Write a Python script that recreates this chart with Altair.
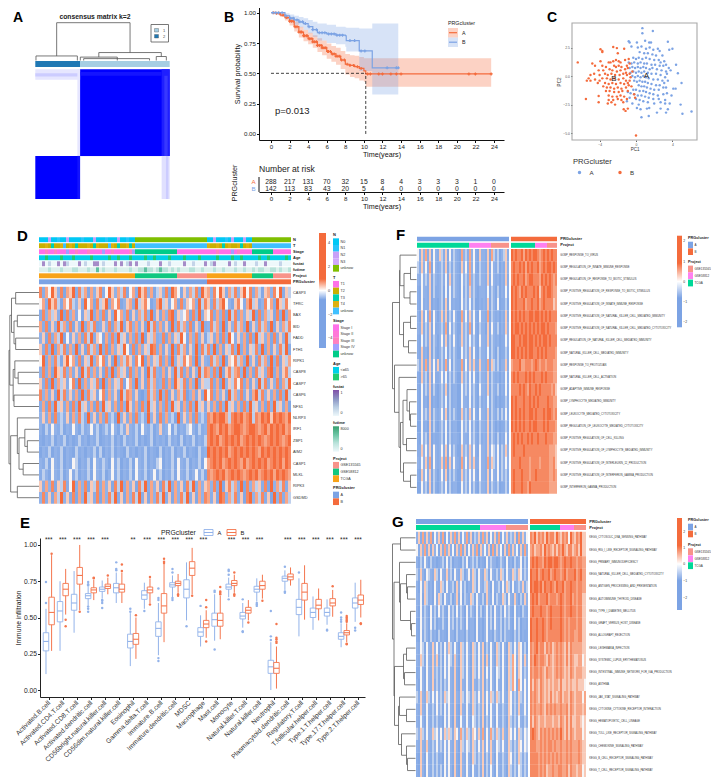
import json
import altair as alt
import pandas as pd

W, H = 703, 771
FONT = "Liberation Sans"
BLUE, ORANGE = "#7CA3E4", "#F46B3C"

# ---------- Panel B values ----------
A_T = [0,.5,1,1.5,2,2.5,3,3.5,4,4.5,5,5.5,6,6.5,7,7.5,8,8.5,9,9.5,10,10.2,23.7]
A_S = [1,.995,.98,.96,.93,.885,.84,.81,.785,.76,.73,.71,.68,.66,.64,.61,.575,.565,.555,.54,.52,.495,.495]
A_HI = [1,1,.995,.98,.96,.925,.885,.86,.835,.815,.79,.77,.745,.725,.71,.685,.66,.65,.645,.635,.625,.625,.63]
A_LO = [1,.985,.965,.935,.895,.845,.795,.765,.74,.71,.675,.65,.62,.595,.57,.535,.49,.47,.46,.44,.43,.39,.385]
B_T = [0,1,1.5,2,2.5,3,3.5,4,4.5,5,6,7,8,8.1,9.5,10.9,13.7]
B_S = [1,1,.975,.955,.94,.925,.91,.885,.86,.835,.825,.815,.81,.77,.685,.545,.545]
B_HI = [1,1,.995,.985,.975,.965,.955,.94,.925,.91,.9,.885,.88,.875,.87,.91,.91]
B_LO = [1,1,.95,.92,.9,.88,.86,.83,.8,.77,.75,.74,.72,.68,.52,.325,.325]
A_CENS = [.3,.6,.9,1.3,1.7,2.0,2.2,2.4,2.6,2.8,3,3.2,3.3,3.5,3.6,3.8,3.9,4.1,4.2,4.4,4.5,4.7,4.9,5,5.2,5.4,5.5,5.7,5.9,6.1,6.2,6.4,6.6,6.8,7,7.2,7.4,7.6,7.9,8.2,8.5,8.9,9.3,9.7,10.4,10.7,11.6,12,12.9,13.5,14,21.3,22,23.7]
B_CENS = [.2,.5,.8,1.2,1.6,2.1,2.4,2.8,3.1,3.4,3.7,4.1,4.5,4.9,5.2,5.5,5.8,6.2,6.5,6.8,7.1,7.4,7.7,8.5,9,9.7,10.1,12.5,13.5,13.7]
RISK_T = list(range(0, 25, 2))
RISK_A = [288,217,131,70,32,15,8,4,3,3,3,1,0]
RISK_B = [142,113,83,43,20,5,4,0,0,0,0,0,0]

# ---------- Panel C values ----------
PCA_B = [(.7,4.2),(.7,3.75),(1.85,3.95),(-.8,3.05),(-.7,2.95),(.1,2.95),(1,3.1),(1.45,2.95),(1.65,2.95),(3.5,3),(4,2.4),(3.65,2.3),(4.4,1),(4.6,.25),(5,-.6),(4.1,-1.1),(4.35,-1.1),(4.9,-2.5),(6.1,-3.1),(5.1,-3.3),(.6,-3.6),(1.4,-3.5),(2.3,-3.2),(3.3,-3.2),(2.7,-2.85),(3.5,-2.9),(.1,-2.8),(.5,-2.9),(1.2,-2.85),(1.45,-2.8),
(-.5,2.6),(.2,2.5),(.6,2.6),(1.1,2.4),(1.5,2.5),(1.9,2.3),(2.4,2.4),(2.6,2.2),(.4,2.1),(.9,2),(1.3,2),(1.8,1.9),(2.2,1.8),(2.9,1.8),(-.3,1.6),(0,1.5),(.3,1.6),(.7,1.5),(1.1,1.6),(1.5,1.5),(2,1.4),(2.5,1.4),(3.1,1.3),(3.6,.7),(-.8,1.2),(-.5,1.1),(-.2,1.2),(.2,1.1),(.5,1.2),(.9,1.1),(1.2,1.1),(1.7,1),(2.1,1),(2.6,.9),(3,.9),
(-.7,.7),(-.4,.8),(-.1,.7),(.2,.8),(.5,.7),(.8,.8),(1.1,.7),(1.5,.6),(1.8,.7),(2.3,.6),(2.8,.5),(3.3,.4),(3.8,.5),(-.6,.3),(-.3,.4),(0,.3),(.3,.4),(.6,.3),(.9,.4),(1.3,.3),(1.7,.2),(2.2,.2),(2.7,.1),(3.2,-.1),(-.4,0),(-.1,-.1),(.2,0),(.5,-.1),(.8,0),(1.1,-.1),(1.4,-.2),(1.9,-.3),(2.4,-.3),(2.9,-.4),(3.5,-.4),
(-.2,-.4),(.1,-.5),(.4,-.4),(.7,-.5),(1,-.5),(1.3,-.6),(1.7,-.7),(2.2,-.8),(2.6,-.8),(3,-1),(3.3,-1),(.3,-.8),(.6,-.9),(.9,-.9),(1.2,-1),(1.6,-1.1),(2,-1.2),(2.5,-1.2),(-.3,-1.2),(0,-1.2),(.4,-1.3),(.8,-1.3),(1.1,-1.4),(1.5,-1.5),(1.9,-1.6),(2.4,-1.7),(3,-1.6),(3.4,-1.5),(-.9,-1.4),(-.6,-1.5),(-.2,-1.6),(.2,-1.7),(.6,-1.7),(1,-1.8),(1.4,-1.9),(1.9,-2),(2.5,-2),(3.2,-2.1),(3.9,-1.7),(-.7,-1.9),(0,-2),(.4,-2.1),(.8,-2.2),(1.3,-2.3),(2,-2.4),(2.7,-2.3),(3.2,-2.4),(3.7,-2.4),(-1,-2.2),(-.4,-2.4),(.3,-2.5),(3.1,-.6),(3.4,.2),(3.3,1),(2.7,1.2)]
PCA_O = [(-6.4,1.2),(-5.5,-2),(-4.1,-1.75),(-4.1,-2.3),(-3.9,2.35),(-3.7,2.2),(-3.7,2.1),(-2.5,2.55),(-2.1,2.45),(-2,2),(-1.3,2.4),(0,-5.2),(-1.35,-2.9),(-1.15,-3.05),(-.9,-2.85),
(-4.8,1.1),(-4.5,.9),(-3.9,1.3),(-3,1.2),(-2.8,1.2),(-2.5,1.3),(-2.2,1.4),(-1.9,1.3),(-1.7,1.2),(-1.2,1.4),(-.8,1.5),(-3.7,.9),(-3.3,.8),(-2.4,.9),(-2.2,.8),(-1.9,.9),(-1.6,.8),(-1,.9),(-4.1,.5),(-3.6,.5),(-2.9,.6),(-2.6,.5),(-2.1,.4),(-1.7,.5),(-1.2,.6),(-.9,.7),(-5,.1),(-4.6,.2),(-4,.1),(-3.4,.2),(-3.1,.1),(-2.7,.2),(-2.3,.1),(-1.8,.1),(-1.4,.2),(-1,.1),(-.7,.2),(-5.2,-.2),(-5,-.4),(-4.5,-.3),(-4,-.4),(-3.7,-.2),(-3.2,-.2),(-2.8,-.3),(-2.4,-.2),(-1.9,-.3),(-1.4,-.2),(-1.1,-.4),(-.6,-.1),(-5.4,-.4),(-4.2,-.6),(-3.4,-.6),(-3,-.7),(-2.6,-.6),(-2.2,-.7),(-1.7,-.6),(-1.3,-.7),(-.9,-.6),
(-3.6,-.9),(-3.2,-1),(-2.8,-1),(-2.4,-1.1),(-2,-1),(-1.6,-1.1),(-1.1,-1),(-3.3,-1.3),(-2.9,-1.3),(-2.4,-1.4),(-1.9,-1.4),(-1.5,-1.3),(-.9,-1.3),(-3,-1.7),(-2.6,-1.8),(-2.1,-1.8),(-1.7,-1.7),(-1.3,-1.8),(-.2,-1.6),(-.1,-1.9),(-3,-2.1),(-2.5,-2.1),(-2,-2),(-1.6,-2.1),(-3.1,-2.4),(-2.7,-2.3),(-2.3,-2.5),(-1.4,-2.3),(-1,-2),(-.8,-.8),(-.5,-.9),(-.7,-.4),(-.4,.4),(-.7,1.1),(-1.1,.3)]

# ---------- Panel E values: (lo, q1, med, q3, hi, outliers) ----------
CATS = ["Activated.B.cell","Activated.CD4.T.cell","Activated.CD8.T.cell","Activated.dendritic.cell","CD56bright.natural.killer.cell","CD56dim.natural.killer.cell","Eosinophil","Gamma.delta.T.cell","Immature.B.cell","Immature.dendritic.cell","MDSC","Macrophage","Mast.cell","Monocyte","Natural.killer.T.cell","Natural.killer.cell","Neutrophil","Plasmacytoid.dendritic.cell","Regulatory.T.cell","T.follicular.helper.cell","Type.1.T.helper.cell","Type.17.T.helper.cell","Type.2.T.helper.cell"]
SIG = ["***","***","***","***","***","","**","***","***","***","***","***","","***","***","***","","***","***","***","***","***","***"]
BOX_A = [(.11,.27,.335,.395,.56,[.60,.745]),(.27,.47,.545,.61,.75,[]),(.395,.55,.60,.66,.82,[]),(.58,.63,.65,.665,.71,[.54,.56,.575,.72,.73,.745]),(.63,.68,.695,.71,.755,[.565,.60,.615,.62]),(.60,.67,.705,.735,.81,[.825,.835,.88]),(.165,.29,.335,.385,.53,[.54,.56]),(.56,.625,.655,.685,.74,[.545]),(.24,.37,.425,.47,.60,[.20,.22,.62,.635,.70]),(.64,.71,.725,.74,.79,[.62,.635,.81,.835]),(.48,.635,.695,.76,.88,[.44]),(.30,.37,.40,.43,.515,[.58]),(.34,.44,.485,.53,.66,[.28,.675,.685]),(.64,.695,.71,.73,.775,[.625,.795,.82,.83]),(.43,.49,.51,.535,.60,[.40,.405,.625]),(.61,.675,.695,.715,.77,[.58,.59,.60]),(0,.115,.16,.205,.33,[.345,.37,.545]),(.69,.75,.77,.785,.825,[.67,.68,.85]),(.37,.52,.57,.625,.77,[.81]),(.415,.50,.535,.565,.645,[]),(.45,.51,.535,.565,.625,[.41,.415]),(.295,.35,.37,.395,.46,[.47,.485,.50,.535]),(.47,.565,.60,.635,.74,[.41,.43])]
BOX_B = [(.27,.45,.535,.64,.93,[.94]),(.52,.65,.695,.735,.835,[.44,.485]),(.55,.73,.79,.845,1.0,[.54]),(.62,.67,.69,.705,.76,[.77,.775]),(.66,.70,.715,.73,.775,[.79]),(.60,.675,.695,.73,.81,[.82,.865]),(.215,.315,.35,.39,.50,[.515]),(.60,.67,.69,.71,.77,[.59,.78]),(.33,.53,.58,.665,.87,[.875,.885,.905]),(.67,.72,.735,.75,.80,[.65,.66]),(.66,.79,.84,.885,.98,[.65]),(.36,.43,.455,.48,.55,[.335,.57,.62]),(.35,.44,.48,.53,.65,[.66,.67,.68,.71]),(.67,.72,.735,.755,.795,[.65,.66,.81]),(.48,.53,.55,.57,.62,[.465]),(.63,.695,.72,.75,.795,[.615]),(.01,.115,.15,.19,.30,[.325,.335,.35,.36,.455]),(.72,.76,.78,.80,.845,[]),(.485,.62,.675,.735,.86,[]),(.48,.56,.585,.625,.70,[]),(.505,.58,.60,.63,.69,[.715]),(.33,.38,.395,.41,.46,[.315,.32,.47,.48,.49,.50,.51]),(.50,.59,.62,.655,.76,[.455,.46])]

# ---------- Heatmap levels: 0 = blue, 5 = white, 9 = orange ----------
D_GENES = ["CASP3","TFRC","BAX","BID","FADD","FTH1","RIPK1","CASP8","CASP7","CASP6","NFS1","NLRP3","IRF1","ZBP1","AIM2","CASP1","MLKL","RIPK3","GSDMD"]
D_ROWS = [
"8275963817 6928471736 8259637481 5729683714 6382975163 748296|7385962748 3695827416 73859264",
"5729684175 8436295718 4692758136 7294685137 9462571836 572948|6284795316 8527946138 57296485",
"2837462918 3725164927 3816295738 1627483926 1738926457 183926|5827381948 2736491827 46182937",
"7281639472 8163927481 2638174926 8372619483 7261938472 816392|3847291638 4729163847 29163748",
"3618274915 2637184926 5172839461 7283916472 3817264951 738261|4627183952 6371829463 71826394",
"6283917482 7392618473 9281736495 2817364982 7163928471 639284|8392716483 9271648392 71638492",
"5927384169 5728164937 5826193748 6285917364 8271936485 729163|2847391658 4729361847 29381647",
"3827196483 7261948372 6183927461 8372619483 2716394827 163948|7382916847 8392718463 89271684",
"6281937462 5819273648 1927364815 7293618472 3817296481 739264|4827193648 5827163948 26381749",
"8372619483 6271938461 5827361948 7261038472 9381627480 371629|5827361947 3826179483 62718394",
"2718394627 1839462718 3946271839 6271839461 7283946172 839461|6271839462 7183946271 83946271",
"3627183426 1738429361 7283419362 7183429361 8273419263 718342|8798997489 8978948798 96989879",
"3142532413 2531423524 1342531426 3241532413 6235141324 531423|8987989789 9878998789 79898978",
"2132413241 3124231324 1232413142 3241312413 2314231413 241324|8989789898 9789898987 89898789",
"1324132413 2142313241 4132413214 2313241321 4132413241 321423|9898989789 8989898798 98989898",
"3241532413 2541324153 2431524132 4153241324 5132415324 132415|7898978989 8797898989 78989798",
"2431532413 5241324153 2413524132 4153241352 4132415324 135241|8789897898 9878989789 89798987",
"6273816482 5927381648 2736184927 3618492736 1849273618 492736|7382916847 2918374628 19374826",
"3826174936 2817394628 1738492617 3849261738 4926173849 261738|7261983748 2618937482 61938274",
]
F_TERMS = ["GOBP_RESPONSE_TO_VIRUS","GOBP_REGULATION_OF_INNATE_IMMUNE_RESPONSE","GOBP_REGULATION_OF_RESPONSE_TO_BIOTIC_STIMULUS","GOBP_POSITIVE_REGULATION_OF_RESPONSE_TO_BIOTIC_STIMULUS","GOBP_POSITIVE_REGULATION_OF_INNATE_IMMUNE_RESPONSE","GOBP_POSITIVE_REGULATION_OF_NATURAL_KILLER_CELL_MEDIATED_IMMUNITY","GOBP_POSITIVE_REGULATION_OF_NATURAL_KILLER_CELL_MEDIATED_CYTOTOXICITY","GOBP_REGULATION_OF_NATURAL_KILLER_CELL_MEDIATED_IMMUNITY","GOBP_NATURAL_KILLER_CELL_MEDIATED_IMMUNITY","GOBP_RESPONSE_TO_PROTOZOAN","GOBP_NATURAL_KILLER_CELL_ACTIVATION","GOBP_ADAPTIVE_IMMUNE_RESPONSE","GOBP_LYMPHOCYTE_MEDIATED_IMMUNITY","GOBP_LEUKOCYTE_MEDIATED_CYTOTOXICITY","GOBP_REGULATION_OF_LEUKOCYTE_MEDIATED_CYTOTOXICITY","GOBP_POSITIVE_REGULATION_OF_CELL_KILLING","GOBP_POSITIVE_REGULATION_OF_LYMPHOCYTE_MEDIATED_IMMUNITY","GOBP_POSITIVE_REGULATION_OF_INTERLEUKIN_12_PRODUCTION","GOBP_POSITIVE_REGULATION_OF_INTERFERON_GAMMA_PRODUCTION","GOBP_INTERFERON_GAMMA_PRODUCTION"]
F_ROWS = [
"5263726153 2642615243 2173427352 1633261742 413462|9898897989 8998789898 988",
"4263527153 2342614243 2163527352 1433261532 413263|8988989798 9889789899 898",
"3253426143 2342516243 2153427342 2433261532 313262|8989889789 9888798989 878",
"2153326142 2341515243 2152426342 1333251431 413252|9898798988 8989689899 877",
"2152326132 1341615232 2153425241 1323261431 512241|9898889788 9889789888 867",
"3162527153 1362614253 1173526352 1533271432 313262|9898989889 9899898989 888",
"3262426152 2342715243 1163427252 1433161532 413263|9899898989 8989899898 887",
"2152426143 1352614253 1263425342 1533261432 312253|9988989989 9898989989 888",
"2162316142 1342514243 1153426252 1433251431 412242|9989898989 9889898988 887",
"4262726252 6242725143 2272526362 2633271642 413362|7888977888 7898788788 877",
"2163416152 2352514243 1163425252 1433261432 313252|8989888989 8988898988 877",
"2152426142 1342614233 1153425342 1533261432 413252|8888989879 8898988888 786",
"2152316132 1342514233 1153325242 1423251431 312242|9898889889 8989888898 877",
"2153426143 2352614243 1163426252 1533261432 414252|9898989889 9898889899 878",
"1152316142 1342514233 1153425242 1433261431 312242|9898989889 8998889898 887",
"2153416132 2341514233 2153325342 1423261431 413252|8989898898 9889888988 877",
"2263526153 2352615243 1163426352 1533262542 514363|8988889888 8888888887 776",
"3253627153 2362716253 2173526362 2533272642 514353|8888988887 8888788887 786",
"2163526143 1352614243 1163425352 1533261532 514342|8988898887 8898888887 787",
"1153416142 1342514233 1153425242 1433261432 412242|8988898879 8888888887 777",
]
G_TERMS = ["KEGG_CYTOSOLIC_DNA_SENSING_PATHWAY","KEGG_RIG_I_LIKE_RECEPTOR_SIGNALING_PATHWAY","KEGG_PRIMARY_IMMUNODEFICIENCY","KEGG_NATURAL_KILLER_CELL_MEDIATED_CYTOTOXICITY","KEGG_ANTIGEN_PROCESSING_AND_PRESENTATION","KEGG_AUTOIMMUNE_THYROID_DISEASE","KEGG_TYPE_I_DIABETES_MELLITUS","KEGG_GRAFT_VERSUS_HOST_DISEASE","KEGG_ALLOGRAFT_REJECTION","KEGG_LEISHMANIA_INFECTION","KEGG_SYSTEMIC_LUPUS_ERYTHEMATOSUS","KEGG_INTESTINAL_IMMUNE_NETWORK_FOR_IGA_PRODUCTION","KEGG_ASTHMA","KEGG_JAK_STAT_SIGNALING_PATHWAY","KEGG_CYTOKINE_CYTOKINE_RECEPTOR_INTERACTION","KEGG_HEMATOPOIETIC_CELL_LINEAGE","KEGG_TOLL_LIKE_RECEPTOR_SIGNALING_PATHWAY","KEGG_CHEMOKINE_SIGNALING_PATHWAY","KEGG_B_CELL_RECEPTOR_SIGNALING_PATHWAY","KEGG_T_CELL_RECEPTOR_SIGNALING_PATHWAY"]
G_ROWS = [
"3627263715 3627152637 2615372614 3627361526 2715362436 172635|8796878697 8869768785 97687966",
"5263726163 5162736251 6372615263 7163526172 6351627263 516273|7867786978 7686879768 86786966",
"3142531423 1234152413 3214251342 4132152433 1243152314 235142|8989887989 9899878988 98878877",
"4263154326 4153263415 3264135264 1532641532 4264153264 365243|9889789889 7898878978 88978977",
"3152642315 3264152341 6352413264 1532463152 3415264152 343624|9899897988 9879889788 98878877",
"3251642315 2641532413 6251432641 5324163251 4326415326 314263|8989788897 8887898788 97878866",
"3152431524 1534215341 5243152431 5241352415 3241534215 231432|8988898878 9888898788 98878866",
"2153431524 1324215341 4243152331 5231352415 3241434215 241332|9889889878 9888898787 88878866",
"2152431423 1423215331 4233142331 5231352314 3241433214 241322|9889889878 8888898787 88778866",
"3254153263 5241536425 3164253164 2536142531 6425316425 365241|8789788687 8678787686 87777766",
"3264153263 6241535426 3164253164 2536162531 6425316475 265263|8798788768 7678787686 87667756",
"2253153263 4241535326 2164253164 2536152531 5425316475 165243|8788787687 7678787676 87677766",
"3153153262 4241435326 2163253163 2436142531 5325316475 175253|8687687676 7677686676 76676665",
"4263264253 5342645326 3264254264 3536253642 6435326534 264353|8787687676 8676786776 87677757",
"3263253242 5341535326 2163253164 2436152532 5324326524 263353|8787787687 8787787786 87677767",
"3253153242 4231535316 2153253154 2426142531 5324316424 253243|8687677677 7677687686 86677656",
"4364253364 5352646426 5274364265 3637253743 6436326535 264354|8987687878 7878797686 87677756",
"3263263243 5342535326 3164354264 2536253632 5435326424 365354|8887787878 8787787787 87778766",
"2163153242 4231535326 2163253164 2436142631 5324326524 264243|8888787878 7878787787 87778766",
"2163153242 4241535316 2163253153 2426142531 5324316424 254243|8888787867 7877887786 87767756",
]

# ---------- Annotation rows of panel D (one letter per column) ----------
D_ANN = {
"N": "cccpcclccpcccclcccpccclcccpcclcc" + "g"*24 + "ccpccclcpcccpcc" + "g"*13,
"T": "yyoytyyobyoytyyyoytoyyyboytyyoty" + "b"*24 + "oyyoytyoyyotyoy" + "b"*13,
"Stage": "mmrmmrmmmvmmrmmmrmmmmvmmrmmmmmrv" + "e"*14 + "m"*10 + "mmmrmmmmvmrmmmm" + "e"*7 + "m"*6,
"Age": "aahaaaahaaahaaaaahaaaaahaahaaaha" + "aaahaahaaaahaa" + "aahaaaahaa" + "aaahaaaahaahaaa" + "aahaaha" + "aaaaha",
"fustat": "fufsffufusfffufsffuufsfffufufsuf" + "ufffsfffuffsff" + "ffuffsfffu" + "fsuffffufsffuff" + "fsffuff" + "ffsfff",
"futime": "kkknkkknkkknnkkknkkdknkkknkkkknk" + "knndnnkndnnknk" + "nkkknnkknk" + "kknkknkkknkknkk" + "nknnkkn" + "nknkkn",
"Project": "O"*32 + "G"*14 + "S"*10 + "O"*15 + "G"*7 + "S"*6,
"PRGcluster": "A"*56 + "B"*28,
}
ANN_KEYS = list("clpgyobtmrveahfusknd") + ["O","G","S","A","B"]
ANN_COLS = ["#00C8F5","#28C4FA","#C8A0F8","#7FBF00","#C8B000","#DDB010","#40C0FF","#00D0B0","#FF70E8","#FF80C0","#A0A0FF","#00CC88","#00D0E8","#20CC70","#EEF8FB","#A68CC8","#C4D4E8","#DCF0EC","#B8E2DA","#60C0A0","#F8A318","#10C880","#F8938A",BLUE,ORANGE]

# ---------- Panel A blocks: x0, x1, y0, y1, consensus ----------
A_BLOCKS = [(.333,1,0,.668,1),(0,.333,.668,1,1),(0,.333,0,.08,.1),(0,.333,.03,.055,.2),(.94,1,.668,1,.12),(.972,.99,.668,1,.2),(.94,1,0,.668,.88),(.96,.985,.05,.668,.78),(.333,.94,.02,.05,.92),(.313,.333,0,.668,.1),(.333,.94,.668,.675,.07),(.313,.333,.668,1,.93)]
# trees: (height, child, child); a bare number is a leaf position
A_TREE = (1, (.12, .005, .313), (.21, (.09, .335, .61), (.105, .9, .975)))
A_TREE2 = (.05, .36, .85)
D_TREE = (36, (35, (33, (28, 0, 1), (30, (26, 2, 3), (28, 4, 5))), (31, (29, 6, (25, 7, 8)), (30, 9, 10))),
              (34, (26, 11, (24, (17, 12, (14, 13, 14)), (19, 15, 16))), (26, 17, 18)))
F_TREE = (24, (17, (16.5, 0, (12.5, (6, 1, 2), (6.5, 3, 4))), (13, (6, 5, 6), (8, 7, 8))),
              (22, 9, (17.5, 10, (16, (13.5, (9.5, 11, (7, 12, (6, 13, 14))), (10, 15, 16)), (13, 17, (6, 18, 19))))))
G_TREE = (23, (15, 0, 1), (21.5, (16, 2, (15, (9, 3, (8, 4, 5)), (5, 6, (4, 7, 8)))),
              (21, (12, (9, 9, 10), (11, 11, 12)), (17, (16, 13, (9, 14, 15)), (14, 16, (9, 17, (8, 18, 19)))))))

LAYERS = []
def px(v): return v - 8
def rx(a, b): return alt.Scale(domain=[a[0], a[1]], range=[px(b[0]), px(b[1])], nice=False, zero=False)

def txt(s, x, y, size=5, bold=False, color="#222222", align="left", baseline="middle", angle=0):
    LAYERS.append(alt.Chart(pd.DataFrame({"t": [s]})).mark_text(
        font=FONT, fontSize=size, fontWeight="bold" if bold else "normal", color=color,
        align=align, baseline=baseline, angle=angle).encode(
        x=alt.value(px(x)), y=alt.value(px(y)), text="t:N"))

def box(x0, x1, y0, y1, fill=None, stroke=None, sw=1, opacity=None):
    kw = {}
    if fill is not None: kw["fill"] = fill
    else: kw["fillOpacity"] = 0
    if stroke is not None: kw.update(stroke=stroke, strokeWidth=sw)
    if opacity is not None: kw["opacity"] = opacity
    LAYERS.append(alt.Chart(pd.DataFrame({"a": [0]})).mark_rect(**kw).encode(
        x=alt.value(px(x0)), x2=alt.value(px(x1)), y=alt.value(px(y0)), y2=alt.value(px(y1))))

def seg(x0, x1, y0, y1, color="#222222", sw=1, dash=None):
    kw = dict(color=color, strokeWidth=sw)
    if dash: kw["strokeDash"] = dash
    LAYERS.append(alt.Chart(pd.DataFrame({"a": [0]})).mark_rule(**kw).encode(
        x=alt.value(px(x0)), x2=alt.value(px(x1)), y=alt.value(px(y0)), y2=alt.value(px(y1))))

def grad(stops):
    return {"gradient": "linear", "x1": 0, "y1": 0, "x2": 0, "y2": 1,
            "stops": [{"offset": o, "color": c} for o, c in stops]}

def tree_segs(node, out, leaf_offset=.5):
    if not isinstance(node, tuple):
        return node + leaf_offset, 0
    h, a, b = node
    pa, ha = tree_segs(a, out, leaf_offset)
    pb, hb = tree_segs(b, out, leaf_offset)
    out += [(ha, h, pa, pa), (hb, h, pb, pb), (h, h, pa, pb)]
    return (pa + pb) / 2, h

def dendro_rows(tree, hmax, xright, xleft, nrows, ytop, ybot):
    out = []
    tree_segs(tree, out)
    df = pd.DataFrame(out, columns=["h1", "h2", "p1", "p2"])
    LAYERS.append(alt.Chart(df).mark_rule(color="#5A5A5A", strokeWidth=.8).encode(
        x=alt.X("h1:Q", axis=None, scale=rx((0, hmax), (xright, xleft))), x2="h2:Q",
        y=alt.Y("p1:Q", axis=None, scale=rx((0, nrows), (ytop, ybot))), y2="p2:Q"))

HEAT = alt.Scale(domain=[0, 3.2, 5, 6.5, 9], range=[BLUE, "#93B3E8", "#F7F4F4", "#F8B59A", ORANGE], interpolate="rgb")
def clean(s):
    return s.replace(" ", "").split("|")
def heat(rows, na, nb, gap, x0, x1, y0, y1):
    recs = []
    for r, s in enumerate(rows):
        a, b = clean(s)
        a = (a + a[-1] * na)[:na]; b = (b + b[-1] * nb)[:nb]
        for c, ch in enumerate(a):
            recs.append((c, c + 1, r, r + 1.03, int(ch)))
        for c, ch in enumerate(b):
            c2 = na + gap + c
            recs.append((c2, c2 + 1, r, r + 1.03, int(ch)))
    df = pd.DataFrame(recs, columns=["c", "c2", "r", "r2", "v"])
    n = na + gap + nb
    LAYERS.append(alt.Chart(df).mark_rect().encode(
        x=alt.X("c:Q", axis=None, scale=rx((0, n), (x0, x1))), x2="c2:Q",
        y=alt.Y("r:Q", axis=None, scale=rx((0, len(rows)), (y0, y1))), y2="r2:Q",
        color=alt.Color("v:Q", scale=HEAT, legend=None)))

def row_labels(labels, x, y0, y1, size, color="#333333"):
    df = pd.DataFrame({"r": [i + .5 for i in range(len(labels))], "l": labels})
    LAYERS.append(alt.Chart(df).mark_text(font=FONT, fontSize=size, align="left", baseline="middle", color=color).encode(
        x=alt.value(px(x)), y=alt.Y("r:Q", axis=None, scale=rx((0, len(labels)), (y0, y1))), text="l:N"))

# ================= Panel A =================
txt("A", 13, 21.5, 14, True, "#000000", baseline="alphabetic")
txt("consensus matrix k=2", 95, 16.5, 6.8, True, align="center")
df = pd.DataFrame(A_BLOCKS, columns=["x0", "x1", "y0", "y1", "v"])
LAYERS.append(alt.Chart(df).mark_rect().encode(
    x=alt.X("x0:Q", axis=None, scale=rx((0, 1), (35.3, 169.7))), x2="x1:Q",
    y=alt.Y("y0:Q", axis=None, scale=rx((0, 1), (69.3, 199))), y2="y1:Q",
    color=alt.Color("v:Q", scale=alt.Scale(domain=[0, 1], range=["#FFFFFF", "#0000FF"], interpolate="rgb"), legend=None)))
out = []
tree_segs(A_TREE, out, 0)
tree_segs(A_TREE2, out, 0)
df = pd.DataFrame(out, columns=["h1", "h2", "p1", "p2"])
LAYERS.append(alt.Chart(df).mark_rule(color="#555555", strokeWidth=.8).encode(
    y=alt.Y("h1:Q", axis=None, scale=rx((0, 1), (60.5, 22.7))), y2="h2:Q",
    x=alt.X("p1:Q", axis=None, scale=rx((0, 1), (35.3, 169.7))), x2="p2:Q"))
box(35.3, 80, 61, 67, fill="#1F78B4")
box(80, 169.7, 61, 67, fill="#A6CEE3")
box(151, 168.5, 24.5, 42, stroke="#555555", sw=.8)
box(154.5, 158.5, 28.5, 32, fill="#A6CEE3", stroke="#555555", sw=.4)
box(154.5, 158.5, 34.5, 38, fill="#1F78B4", stroke="#555555", sw=.4)
txt("1", 163, 30.5, 4, color="#444444")
txt("2", 163, 36.5, 4, color="#444444")

# ================= Panel B =================
txt("B", 224, 21.5, 14, True, "#000000", baseline="alphabetic")
TS = rx((-1.29, 25.08), (259, 504))
SS = rx((-.05, 1.047), (140, 7))
def frame(t, s, hi, lo):
    return pd.DataFrame({"t": t, "s": s, "hi": hi, "lo": lo})
def xn(): return alt.X("t:Q", axis=None, scale=TS)
for t, s, hi, lo, col in [(A_T, A_S, A_HI, A_LO, ORANGE), (B_T, B_S, B_HI, B_LO, BLUE)]:
    LAYERS.append(alt.Chart(frame(t, s, hi, lo)).mark_area(interpolate="step-after", opacity=.3, color=col).encode(
        x=xn(), y=alt.Y("lo:Q", axis=None, scale=SS), y2="hi:Q"))
for t, s, cens, col in [(A_T, A_S, A_CENS, ORANGE), (B_T, B_S, B_CENS, BLUE)]:
    LAYERS.append(alt.Chart(pd.DataFrame({"t": t, "s": s})).mark_line(interpolate="step-after", color=col, strokeWidth=1.2).encode(
        x=xn(), y=alt.Y("s:Q", axis=None, scale=SS)))
    cy = [[v for tt, v in zip(t, s) if tt <= c][-1] for c in cens]
    LAYERS.append(alt.Chart(pd.DataFrame({"t": cens, "s": cy})).mark_point(shape="cross", filled=True, size=9, color=col, opacity=1).encode(
        x=xn(), y=alt.Y("s:Q", axis=None, scale=SS)))
# median guide lines
LAYERS.append(alt.Chart(pd.DataFrame({"t": [0], "t2": [10.2], "s": [.5]})).mark_rule(color="#111111", strokeWidth=.8, strokeDash=[3, 2]).encode(
    x=xn(), x2="t2:Q", y=alt.Y("s:Q", axis=None, scale=SS)))
LAYERS.append(alt.Chart(pd.DataFrame({"t": [10.2], "s": [0], "s2": [.5]})).mark_rule(color="#111111", strokeWidth=.8, strokeDash=[3, 2]).encode(
    x=xn(), y=alt.Y("s:Q", axis=None, scale=SS), y2="s2:Q"))
# axes
LAYERS.append(alt.Chart(pd.DataFrame({"t": [0], "s": [0]})).mark_point(opacity=0).encode(
    x=alt.X("t:Q", scale=TS, axis=alt.Axis(orient="bottom", offset=px(140) - H, values=RISK_T, format="d", grid=False,
        domainColor="#111111", domainWidth=1, tickColor="#111111", tickSize=2.5, labelFontSize=6.2, labelColor="#222222", labelPadding=1, labelFont=FONT,
        title="Time(years)", titleFontSize=7.2, titleFontWeight="normal", titleFont=FONT, titlePadding=1, titleColor="#111111")),
    y=alt.Y("s:Q", scale=SS, axis=alt.Axis(orient="left", offset=-px(259), values=[0, .25, .5, .75, 1], format=".2f", grid=False,
        domainColor="#111111", domainWidth=1, tickColor="#111111", tickSize=2.5, labelFontSize=6.2, labelColor="#222222", labelPadding=1, labelFont=FONT,
        title="Survival probability", titleFontSize=7.2, titleFontWeight="normal", titleFont=FONT, titlePadding=2, titleColor="#111111"))))
txt("p=0.013", 275, 110.5, 9.5, color="#222222")
txt("PRGcluster", 448, 22.5, 5.3)
box(448, 458, 28, 37.5, fill=ORANGE, opacity=.3)
box(448, 458, 37.5, 47, fill=BLUE, opacity=.3)
seg(449, 457, 32.7, 32.7, ORANGE, 1.2)
seg(449, 457, 42.2, 42.2, BLUE, 1.2)
txt("A", 462, 32.7, 5.3)
txt("B", 462, 42.2, 5.3)
# risk table
RY = rx((0, 1), (192, 177))
txt("Number at risk", 259, 168.5, 8.6)
for rv, yv in [(RISK_A, .7), (RISK_B, .23)]:
    LAYERS.append(alt.Chart(pd.DataFrame({"t": RISK_T, "n": rv, "y": [yv] * len(rv)})).mark_text(font=FONT, fontSize=6.8, color="#222222").encode(
        x=xn(), y=alt.Y("y:Q", axis=None, scale=RY), text="n:Q"))
LAYERS.append(alt.Chart(pd.DataFrame({"t": [0], "y": [0]})).mark_point(opacity=0).encode(
    x=alt.X("t:Q", scale=TS, axis=alt.Axis(orient="bottom", offset=px(192) - H, values=RISK_T, format="d", grid=False,
        domainColor="#111111", domainWidth=1, tickColor="#111111", tickSize=2.5, labelFontSize=6.2, labelColor="#222222", labelPadding=1, labelFont=FONT,
        title="Time(years)", titleFontSize=7.2, titleFontWeight="normal", titleFont=FONT, titlePadding=1, titleColor="#111111")),
    y=alt.Y("y:Q", axis=None, scale=RY)))
seg(259, 259, 177, 192, "#111111", 1)
txt("A", 251.5, 181.5, 6.2, color=ORANGE)
txt("B", 251.5, 188.5, 6.2, color=BLUE)
txt("PRGcluster", 235, 183, 7.2, align="center", angle=270)

# ================= Panel C =================
txt("C", 547, 21.5, 14, True, "#000000", baseline="alphabetic")
PX = rx((-7.03, 6.7), (572, 697))
PY = rx((-5.6, 4.65), (140, 23))
for pts, col in [(PCA_B, BLUE), (PCA_O, ORANGE)]:
    df = pd.DataFrame(pts, columns=["x", "y"])
    LAYERS.append(alt.Chart(df).mark_circle(size=6, color=col, opacity=1).encode(
        x=alt.X("x:Q", axis=None, scale=PX), y=alt.Y("y:Q", axis=None, scale=PY)))
LAYERS.append(alt.Chart(pd.DataFrame({"x": [0], "y": [0]})).mark_point(opacity=0).encode(
    x=alt.X("x:Q", scale=PX, axis=alt.Axis(orient="bottom", offset=px(140) - H, values=[-4, 0, 4], format="d", grid=False,
        domain=False, tickColor="#666666", tickSize=1.5, labelFontSize=3.4, labelColor="#555555", labelPadding=1, labelFont=FONT,
        title="PC1", titleFontSize=4.5, titleFontWeight="normal", titleFont=FONT, titlePadding=1, titleColor="#333333")),
    y=alt.Y("y:Q", scale=PY, axis=alt.Axis(orient="left", offset=-px(572), values=[-5, -2.5, 0, 2.5], format=".1f", grid=False,
        domain=False, tickColor="#666666", tickSize=1.5, labelFontSize=3.4, labelColor="#555555", labelPadding=1, labelFont=FONT,
        title="PC2", titleFontSize=4.5, titleFontWeight="normal", titleFont=FONT, titlePadding=1, titleColor="#333333"))))
box(572, 697, 23, 140, stroke="#A8A8A8", sw=1.1)
txt("A", 646.5, 75.5, 8, align="center", color="#222222")
txt("B", 614, 79, 8, align="center", color="#222222")
txt("PRGcluster", 573, 162, 7.6, color="#333333")
for xx, col, lab in [(579.5, BLUE, "A"), (620, ORANGE, "B")]:
    LAYERS.append(alt.Chart(pd.DataFrame({"a": [0]})).mark_circle(size=12, color=col, opacity=1).encode(
        x=alt.value(px(xx)), y=alt.value(px(172.5))))
    txt(lab, xx + 10, 172.5, 6.2, color="#333333")

# ================= Panel D =================
txt("D", 17, 241, 15, True, "#000000", baseline="alphabetic")
recs = []
for r, (k, s) in enumerate(D_ANN.items()):
    for c, ch in enumerate(s[:84]):
        recs.append((c, c + 1, r + .09, r + .91, ch))
df = pd.DataFrame(recs, columns=["c", "c2", "r", "r2", "k"])
LAYERS.append(alt.Chart(df).mark_rect().encode(
    x=alt.X("c:Q", axis=None, scale=rx((0, 84), (39, 291))), x2="c2:Q",
    y=alt.Y("r:Q", axis=None, scale=rx((0, 8), (236.7, 284.8))), y2="r2:Q",
    color=alt.Color("k:N", scale=alt.Scale(domain=ANN_KEYS, range=ANN_COLS), legend=None)))
df = pd.DataFrame({"r": [i + .5 for i in range(8)], "l": list(D_ANN.keys())})
LAYERS.append(alt.Chart(df).mark_text(font=FONT, fontSize=4, fontWeight="bold", align="left", baseline="middle", color="#222222").encode(
    x=alt.value(px(293)), y=alt.Y("r:Q", axis=None, scale=rx((0, 8), (236.7, 284.8))), text="l:N"))
heat(D_ROWS, 56, 28, 0, 39, 291, 286.8, 503.4)
dendro_rows(D_TREE, 36, 39, 9, 19, 286.8, 503.4)
row_labels(D_GENES, 293, 286.8, 503.4, 3.9)
box(319, 326, 233, 348, fill=grad([(0, ORANGE), (.4, ORANGE), (.5, "#FFFFFF"), (.58, BLUE), (1, BLUE)]))
for lab, y in [("4", 243.3), ("2", 267.3), ("0", 291), ("−2", 315), ("−4", 338.3)]:
    txt(lab, 328, y, 3.8, color="#333333")
def legend(title, ty, items, x=333, keyw=6, keyh=6.7, size=3.7, tsize=4):
    txt(title, x, ty, tsize, True)
    for lab, col, y in items:
        box(x, x + keyw, y - keyh / 2, y + keyh / 2, fill=col)
        txt(lab, x + keyw + 1.5, y, size, color="#333333")
legend("N", 235, [("N0", "#00C8F5", 241.7), ("N1", "#28C4FA", 248.3), ("N2", "#C8A0F8", 255), ("N3", "#D0A8FA", 261.7), ("unknow", "#7FBF00", 268.3)])
legend("T", 278, [("T1", "#FF70E8", 284.3), ("T2", "#C8B000", 291), ("T3", "#00D0B0", 297.7), ("T4", "#DDB010", 304.3), ("unknow", "#40C0FF", 311)])
legend("Stage", 321, [("Stage I", "#FF70E8", 327.7), ("Stage II", "#FF78D8", 334.3), ("Stage III", "#FF80C0", 340.7), ("Stage IV", "#A0A0FF", 347.3), ("unknow", "#00CC88", 354)])
legend("Age", 364, [("<=65", "#00D0E8", 370.3), (">65", "#20CC70", 377)])
txt("fustat", 333, 386.7, 4, True)
box(333, 339, 390, 416, fill=grad([(0, "#8050A8"), (.35, "#8C96C4"), (.65, "#B8CCE2"), (1, "#EEF8FB")]))
txt("1", 340.5, 393.3, 3.7, color="#333333")
txt("0", 340.5, 413.3, 3.7, color="#333333")
txt("futime", 333, 423, 4, True)
box(333, 339, 426.3, 451.7, fill=grad([(0, "#38A070"), (.35, "#70C8A8"), (.65, "#B8E2DA"), (1, "#EEF8FB")]))
txt("8000", 340.5, 429.3, 3.7, color="#333333")
txt("0", 340.5, 449, 3.7, color="#333333")
legend("Project", 459, [("GSE135565", "#F8938A", 465.3), ("GSE58812", "#10C880", 472), ("TCGA", "#F8A318", 478.7)])
legend("PRGcluster", 488.3, [("A", BLUE, 495), ("B", ORANGE, 501.7)])

# ================= Panel E =================
txt("E", 20, 528, 15, True, "#000000", baseline="alphabetic")
EX = rx((-.626, 22.5), (40, 365))
EY = rx((-.048, 1.048), (697, 538))
def ex(f): return alt.X(f + ":Q", axis=None, scale=EX)
def ey(f): return alt.Y(f + ":Q", axis=None, scale=EY)
for stats, off, col in [(BOX_A, -.2, "#93B3EA"), (BOX_B, .2, "#F4764E")]:
    rows, outs = [], []
    for i, (lo, q1, med, q3, hi, oo) in enumerate(stats):
        c = i + off
        rows.append((c, c - .195, c + .195, lo, q1, med, q3, hi))
        outs += [(c, o) for o in oo]
    df = pd.DataFrame(rows, columns=["c", "l", "r", "lo", "q1", "med", "q3", "hi"])
    LAYERS.append(alt.Chart(df).mark_rule(color=col, strokeWidth=1).encode(x=ex("c"), y=ey("lo"), y2="hi:Q"))
    LAYERS.append(alt.Chart(df).mark_rect(fill="#FFFFFF", stroke=col, strokeWidth=.9).encode(x=ex("l"), x2="r:Q", y=ey("q1"), y2="q3:Q"))
    LAYERS.append(alt.Chart(df).mark_rule(color=col, strokeWidth=1.1).encode(x=ex("l"), x2="r:Q", y=ey("med")))
    LAYERS.append(alt.Chart(pd.DataFrame(outs, columns=["c", "o"])).mark_circle(size=6, color=col, opacity=1).encode(x=ex("c"), y=ey("o")))
df = pd.DataFrame({"c": list(range(23)), "s": SIG, "y": [1.035] * 23})
LAYERS.append(alt.Chart(df).mark_text(font=FONT, fontSize=6.5, color="#222222", baseline="middle").encode(x=ex("c"), y=ey("y"), text="s:N"))
LAYERS.append(alt.Chart(pd.DataFrame({"c": [0], "y": [0]})).mark_point(opacity=0).encode(
    x=alt.X("c:Q", scale=EX, axis=alt.Axis(orient="bottom", offset=px(697) - H, values=list(range(23)), labelExpr=json.dumps(CATS) + "[datum.value]",
        labelAngle=315, labelAlign="right", labelBaseline="middle", labelOverlap=False, labelBound=False, labelFlush=False, labelSeparation=0,
        grid=False, title=None, domainColor="#222222", domainWidth=1, tickColor="#222222", tickSize=2.5, labelFontSize=6.7, labelColor="#333333", labelPadding=2, labelFont=FONT, labelLimit=200)),
    y=alt.Y("y:Q", scale=EY, axis=alt.Axis(orient="left", offset=-px(40), values=[0, .25, .5, .75, 1], format=".2f", grid=False,
        domainColor="#222222", domainWidth=1, tickColor="#222222", tickSize=2.5, labelFontSize=6.7, labelColor="#222222", labelPadding=1, labelFont=FONT,
        title="Immune infiltration", titleFontSize=6.7, titleFontWeight="normal", titleFont=FONT, titlePadding=2, titleColor="#111111"))))
txt("PRGcluster", 161, 532.5, 6.8)
for x0, col, lab in [(204, "#93B3EA", "A"), (227, "#F4764E", "B")]:
    box(x0, x0 + 9, 529.5, 535.5, fill="#FFFFFF", stroke=col, sw=.9)
    seg(x0, x0 + 9, 532.5, 532.5, col, 1)
    txt(lab, x0 + 13.5, 532.5, 5.8)

# ================= Panels F and G =================
def project_bar(runs, x0, step, y0, y1):
    x = x0
    for n, col in runs:
        box(x, x + n * step, y0, y1, fill=col)
        x += n * step
G1, M1, S1 = "#00D898", "#FF80F0", "#F8938A"
def side_legend(y_bar0, y_bar1, ticks, items_y):
    box(677, 682, y_bar0, y_bar1, fill=grad([(0, ORANGE), (.3, ORANGE), (.5, "#FFFFFF"), (.68, BLUE), (1, BLUE)]))
    for lab, y in ticks:
        txt(lab, 683.3, y, 3.4, color="#333333")
    t1, a, b, t2, s1, s2, s3 = items_y
    txt("PRGcluster", 688, t1, 3.8, True)
    box(688, 693, a - 3.3, a + 3.3, fill=BLUE); txt("A", 694.5, a, 3, color="#333333")
    box(688, 693, b - 3.3, b + 3.3, fill=ORANGE); txt("B", 694.5, b, 3, color="#333333")
    txt("Project", 688, t2, 3.8, True)
    for y, col, lab in [(s1, S1, "GSE135565"), (s2, M1, "GSE58812"), (s3, G1, "TCGA")]:
        box(688, 693, y - 3.4, y + 3.4, fill=col); txt(lab, 694.5, y, 3, color="#333333")

txt("F", 396, 240, 15, True, "#000000", baseline="alphabetic")
box(417, 509, 236.7, 241.2, fill=BLUE); box(511, 557, 236.7, 241.2, fill=ORANGE)
project_bar([(26, G1), (11, M1), (9, S1)], 417, 2, 242.8, 247.8)
project_bar([(12, G1), (6, M1), (5, S1)], 511, 2, 242.8, 247.8)
txt("PRGcluster", 560.3, 239, 4, True); txt("Project", 560.3, 245.3, 4, True)
heat(F_ROWS, 46, 23, 1, 417, 557, 249, 493.5)
dendro_rows(F_TREE, 24, 416.5, 392.5, 20, 249, 493.5)
row_labels(F_TERMS, 560.3, 249, 493.5, 2.6)
side_legend(235.7, 327.3, [("2", 240.7), ("1", 261.7), ("0", 281.7), ("−1", 301.7), ("−2", 322)], (237.7, 245, 251.7, 262.3, 269, 275.7, 283))

txt("G", 392, 527, 15, True, "#000000", baseline="alphabetic")
box(416, 528, 519, 524, fill=BLUE); box(530, 586, 519, 524, fill=ORANGE)
project_bar([(32, G1), (13, M1), (11, S1)], 416, 2, 525, 530)
project_bar([(15, G1), (7, M1), (6, S1)], 530, 2, 525, 530)
txt("PRGcluster", 589.3, 521.5, 4, True); txt("Project", 589.3, 528, 4, True)
heat(G_ROWS, 56, 28, 1, 416, 586, 531.7, 776.7)
dendro_rows(G_TREE, 24, 415.5, 391.5, 20, 531.7, 776.7)
row_labels(G_TERMS, 589.3, 531.7, 776.7, 2.6)
side_legend(518, 610, [("2", 531.7), ("1", 547.7), ("0", 564.3), ("−1", 581), ("−2", 597.7)], (520, 527, 534, 545, 551.7, 558.7, 565.7))

chart = alt.layer(*LAYERS).resolve_scale(x="independent", y="independent", color="independent").properties(
    width=W, height=H, padding=0, autosize=alt.AutoSizeParams(type="none"), background="#FFFFFF"
).configure_view(stroke=None)

chart.save("out.html", embed_options={"renderer": "svg", "actions": False})
